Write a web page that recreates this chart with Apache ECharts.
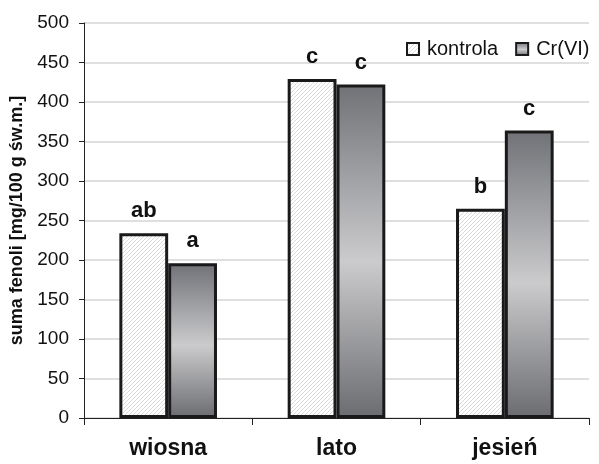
<!DOCTYPE html>
<html>
<head>
<meta charset="utf-8">
<script src="https://cdn.jsdelivr.net/npm/echarts@6/dist/echarts.min.js"></script>
<style>html,body{margin:0;padding:0;background:#fff;}#c{width:599px;height:464px;}</style>
</head>
<body>
<div id="c"></div>
<script>
const categories = ['wiosna', 'lato', 'jesień'];
const kontrola = [234, 429, 265];
const crvi = [196, 422, 364];
const kontrolaLetters = ['ab', 'c', 'b'];
const crviLetters = ['a', 'c', 'c'];
const yTicks = { min: 0, max: 500, interval: 50 };

const pc = document.createElement('canvas');
pc.width = 4; pc.height = 4;
const ctx = pc.getContext('2d');
ctx.fillStyle = '#ffffff';
ctx.fillRect(0, 0, 4, 4);
ctx.strokeStyle = '#d9d9d9';
ctx.lineWidth = 1;
ctx.beginPath();
ctx.moveTo(-1, 5); ctx.lineTo(5, -1);
ctx.moveTo(-3, 3); ctx.lineTo(3, -3);
ctx.moveTo(1, 7); ctx.lineTo(7, 1);
ctx.stroke();

const hatch = { image: pc, repeat: 'repeat' };
const grad = {
  type: 'linear', x: 0, y: 0, x2: 0, y2: 1,
  colorStops: [
    { offset: 0, color: '#707277' },
    { offset: 0.53, color: '#cbcbcd' },
    { offset: 1, color: '#6b6c70' }
  ]
};

const chart = echarts.init(document.getElementById('c'), null, { renderer: 'canvas' });
const labelStyle = {
  show: true, position: 'top', distance: 11,
  fontFamily: 'Liberation Sans', fontWeight: 'bold', fontSize: 22, color: '#111'
};
chart.setOption({
  animation: false,
  backgroundColor: '#fff',
  grid: { left: 84, right: 10, top: 23, bottom: 46 },
  legend: {
    left: 401, top: 34,
    itemWidth: 12, itemHeight: 12, itemGap: 17,
    icon: 'rect',
    itemStyle: { borderColor: '#1a1a1a', borderWidth: 2 },
    textStyle: { fontFamily: 'Liberation Sans', fontSize: 20, color: '#111', padding: [0, 0, 0, 3] },
    data: ['kontrola', 'Cr(VI)']
  },
  xAxis: {
    type: 'category',
    data: categories,
    axisLine: { show: true, lineStyle: { color: '#222', width: 1 } },
    axisTick: { show: true, length: 7, lineStyle: { color: '#222' } },
    axisLabel: { margin: 19, fontFamily: 'Liberation Sans', fontWeight: 'bold', fontSize: 23, color: '#111' }
  },
  yAxis: {
    type: 'value',
    min: yTicks.min, max: yTicks.max, interval: yTicks.interval,
    name: 'suma fenoli [mg/100 g św.m.]',
    nameLocation: 'middle', nameRotate: 90, nameGap: 57,
    nameTextStyle: { fontFamily: 'Liberation Sans', fontWeight: 'bold', fontSize: 18, color: '#111' },
    axisLine: { show: true, lineStyle: { color: '#222', width: 1 } },
    axisTick: { show: true, length: 5, lineStyle: { color: '#222' } },
    axisLabel: { margin: 15, fontFamily: 'Liberation Sans', fontSize: 19, color: '#111' },
    splitLine: { show: true, lineStyle: { color: '#d4d4d4', width: 1.5 } }
  },
  series: [
    {
      name: 'kontrola', type: 'bar', data: kontrola,
      barGap: '0%', barCategoryGap: '42%',
      itemStyle: { color: hatch, borderColor: '#1a1a1a', borderWidth: 3 },
      label: Object.assign({}, labelStyle, { formatter: p => kontrolaLetters[p.dataIndex] })
    },
    {
      name: 'Cr(VI)', type: 'bar', data: crvi,
      itemStyle: { color: grad, borderColor: '#1a1a1a', borderWidth: 3 },
      label: Object.assign({}, labelStyle, { formatter: p => crviLetters[p.dataIndex] })
    }
  ]
});
</script>
</body>
</html>
